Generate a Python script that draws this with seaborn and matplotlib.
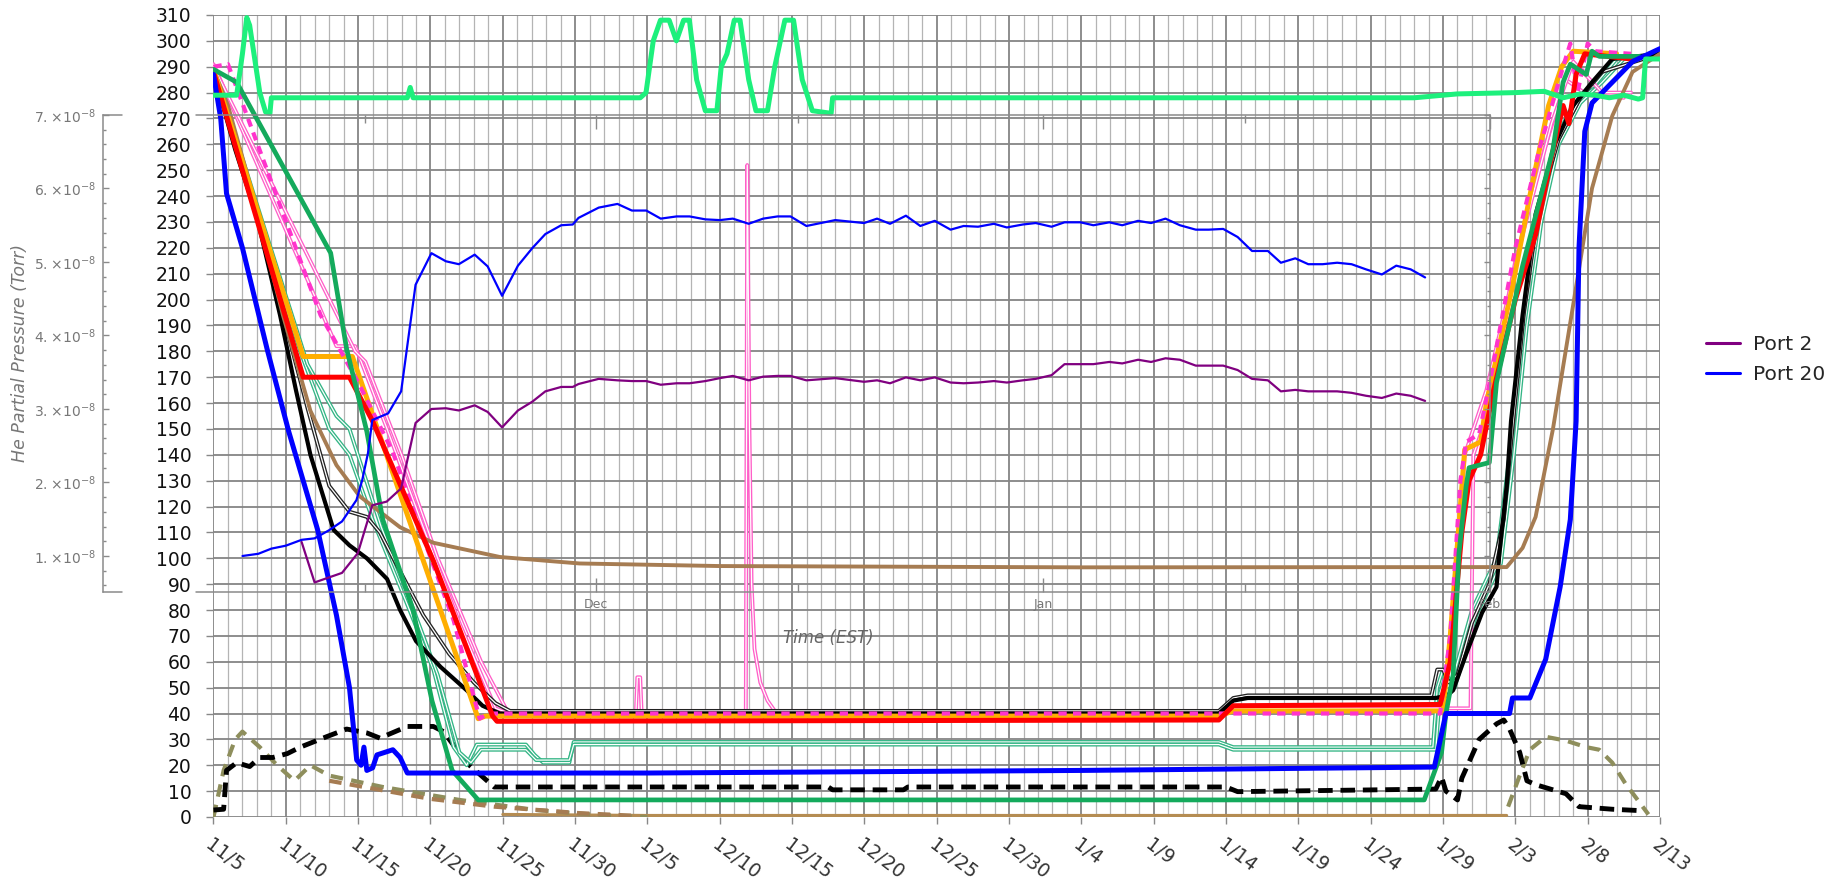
import numpy as np
import pandas as pd
import matplotlib
matplotlib.use('Agg')
import matplotlib.pyplot as plt
import matplotlib.patheffects as pe
from matplotlib.lines import Line2D
from matplotlib.ticker import MultipleLocator, FuncFormatter
import seaborn as sns

# dates: main axis counts days from 11/5, inset counts days from Dec 1
start = pd.Timestamp('2019-11-05')
tick_dates = pd.date_range(start, '2020-02-13', freq='5D')
tick_labels = [f'{d.month}/{d.day}' for d in tick_dates]
tick_days = list((tick_dates - start).days)

# ---- main chart series (day, value) ----
lime_day = [0, 1.6, 2.0, 2.3, 2.5, 3.2, 3.6, 3.9, 4.0, 13.4, 13.6, 13.8, 29.5, 29.9, 30.4, 30.9, 31.5, 32.0,
            32.5, 32.9, 33.4, 34.0, 34.8, 35.1, 35.5, 36.0, 36.4, 37.0, 37.5, 38.3, 38.8, 39.5, 40.1, 40.7,
            41.4, 42.7, 42.8, 83, 86, 90, 92, 93.3, 94.5, 95.5, 96.5, 97.5, 98.5, 98.8, 99.0, 100]
lime_val = [279, 279, 295, 309, 306, 280, 272.5, 272, 278, 278, 282, 278, 278, 280, 300, 308, 308, 300,
            308, 308, 285, 273, 273, 290, 295, 308, 308, 285, 273, 273, 290, 308, 308, 285,
            273, 272, 278, 278, 279.5, 280, 280.5, 278, 279.5, 279, 278, 279, 277.5, 278, 293, 293]

brown_day = [0, 1, 2.5, 4.8, 6.7, 8.5, 10.1, 12.9, 15.2, 19.8, 25.3, 35, 60, 89.4, 90.5, 91.4, 92.6, 94,
             95.3, 96.7, 98.1, 100]
brown_val = [289, 275, 245, 194, 157, 136, 124, 112, 106, 100.5, 98, 97, 96.5, 96.6, 104, 116, 150, 198,
             243, 271, 288, 295]

blue_day = [0, 0.5, 0.9, 2.0, 3.7, 5.2, 7.2, 8.5, 9.4, 9.9, 10.2, 10.4, 10.6, 11.0, 11.3, 12.4, 12.9, 13.4,
            30, 60, 84.4, 85.2, 89.6, 89.8, 91, 92.1, 93.1, 93.8, 94.2, 94.4, 94.8, 95.3, 96.7, 98.1, 100]
blue_val = [287, 270, 241, 220, 181, 149, 111, 78, 50, 22, 20, 27, 18, 19, 24, 26, 23, 17,
            17, 18, 19.3, 40, 40, 46, 46, 61, 89, 115, 153, 220, 265, 276, 284, 292, 297]

black_day = [0, 1.5, 3, 4.6, 5.7, 6.7, 8.3, 9.4, 10.6, 12, 12.9, 14, 15.7, 17.5, 18.6, 19.8, 30, 69.5,
             70.5, 71.5, 84.5, 85.3, 85.7, 86.6, 87.7, 88.7, 88.9, 89.4, 89.7, 90.5, 91.4, 92.8, 94,
             95.3, 96.7, 100]
black_val = [288, 258, 232, 194, 165, 140, 111, 105, 100, 92, 80, 68, 58, 49, 43, 40, 40, 40,
             45, 46, 46, 47, 49, 63, 79, 89, 102, 128, 153, 194, 233, 261, 275,
             284, 293, 295]

black2_day = [0, 1.5, 3.2, 5, 6.5, 8, 9.4, 10.6, 11.5, 12.9, 14.5, 16.3, 18, 19.5, 20.5, 69.5, 70.5,
              71.5, 84.2, 84.6, 85.0, 85.4, 86, 87, 88.2, 89.2, 89.8, 90.6, 91.6, 93, 94.5, 96, 100]
black2_val = [289, 262, 232, 190, 158, 128, 118, 116, 110, 95, 78, 63, 52, 44, 41, 41, 46,
              47, 47, 57, 57, 52, 55, 75, 90, 115, 150, 195, 235, 262, 278, 288, 295]

red_day = [0, 6.2, 9.4, 11, 15.2, 19.3, 19.6, 69.5, 70.5, 84.8, 85.5, 86.3, 86.8, 87.6, 88.5, 90, 91.4,
           92.5, 93.3, 93.7, 94.2, 94.8, 98]
red_val = [288, 170, 170, 153, 99, 39, 37, 37.5, 43, 43.5, 60, 110, 130, 140, 165, 200, 225,
           255, 275, 268, 287, 295, 293]

orange_day = [0, 6.2, 9.6, 18.3, 18.8, 69.5, 70.5, 85, 85.5, 86.2, 86.5, 87.6, 88, 89.8, 91, 92.3, 93.2, 94, 97]
orange_val = [289, 178, 178, 38, 39, 39, 41, 41, 70, 120, 142, 145, 160, 205, 240, 275, 290, 296, 295]

magenta_day = [0, 1, 7.4, 8.7, 10, 12.4, 14.3, 16.6, 18.4, 19.0, 84.8, 85.5, 86.2, 86.6, 87.5, 88.3, 90,
               91.7, 93.3, 93.8, 94.3, 95.0, 95.5, 98]
magenta_val = [290, 291, 194, 181, 168, 141, 111, 76, 38, 40, 40, 70, 130, 145, 148, 170, 220,
               259, 290, 299, 280, 299, 296, 295]

pink1_day = [0, 8.5, 9.8, 12, 14.5, 17, 19.5, 20.5, 29.2, 29.3, 29.5, 29.6, 36.8, 36.9, 37.05, 37.2, 37.4,
             37.8, 38.3, 38.8, 39.5, 69.5, 70.5, 86.9, 87.1, 87.6, 88.5, 90, 92, 93.5, 95, 97.5]
pink1_val = [291, 182, 182, 150, 112, 75, 42, 40, 40, 54, 54, 40, 40, 252, 150, 90, 65,
             52, 45, 41, 40, 40, 42, 42, 140, 148, 170, 215, 258, 285, 279, 278]
pink2_day = [0, 9.8, 10.5, 13, 15.5, 18.5, 20.3, 85, 85.7, 86.5, 88, 90.5, 92.5, 94, 96, 98]
pink2_val = [290, 180, 176, 140, 100, 60, 41, 41, 80, 140, 165, 225, 268, 292, 280, 280]

green_day = [0, 1.6, 8.1, 9.2, 10.6, 11.7, 13.8, 15.1, 16.5, 18.3, 83.7, 84.9, 85.2, 85.7, 86.1, 86.6,
             86.8, 88.2, 88.7, 90.5, 92.6, 93.3, 93.8, 94.9, 95.3, 95.8, 98.6]
green_val = [289, 284, 218, 181, 149, 115, 80, 45, 18, 6.6, 6.6, 25, 40, 55, 102, 128,
             135, 137, 168, 213, 258, 284, 291, 287, 296, 294, 294]

seagreen1_day = [0, 3, 6, 8, 9.4, 11, 12.9, 15.2, 16.6, 17.5, 18.2, 21.6, 22.2, 22.8, 24.6, 24.9, 69.5,
                 70.5, 84.3, 84.6, 85, 85.6, 87, 88.7, 89.6, 90.5, 91.5, 92.8, 94.2, 95.5, 97, 100]
seagreen1_val = [290, 232, 180, 150, 140, 115, 89, 57, 27, 20, 28, 28, 24, 21, 21, 29, 29,
                 27, 27, 50, 57, 52, 80, 100, 140, 192, 232, 262, 278, 283, 293, 295]
seagreen2_day = [0, 3.5, 6.5, 8.5, 9.4, 11.6, 13.5, 15.5, 17, 17.8, 18.5, 21.6, 22.3, 24.6, 24.9, 69.5,
                 70.5, 84.5, 84.8, 85.2, 85.8, 87.3, 89, 89.9, 90.8, 91.8, 93, 94.5, 96, 97.5, 100]
seagreen2_val = [290, 228, 175, 155, 150, 112, 85, 55, 25, 21, 26, 26, 22, 22, 28, 28,
                 26, 26, 48, 55, 50, 78, 98, 140, 190, 230, 260, 276, 284, 293, 295]

bdash_day = [0, 0.7, 0.9, 1.6, 2.5, 3.2, 4.1, 5.1, 6.0, 7.8, 9.2, 10.6, 11.5, 13.4, 15.2, 15.9, 17.5,
             19.4, 42.5, 42.8, 47.7, 48, 70, 70.8, 84.5, 84.9, 85.2, 86.0, 86.3, 87.5, 88.7, 89.2,
             89.6, 90.3, 90.8, 91.4, 92.6, 93.5, 94.4, 96.7, 98.5]
bdash_val = [2.7, 3, 18, 21, 19.5, 23, 23, 24.5, 27, 31, 34, 32.5, 30.5, 35, 35, 33, 21,
             11.6, 11.6, 10.5, 10.5, 11.6, 11.6, 9.8, 10.8, 15.5, 10, 6.6, 15, 30, 36, 37.5,
             34, 25, 14, 12.5, 10.5, 9, 4, 3, 2.5]

olive_a_day = [0, 0.7, 1.5, 2.0, 3.2, 4.4, 5.6, 6.7, 8, 11.7, 17, 22.3, 26.5, 30]
olive_a_val = [0, 18, 30, 33, 27, 20, 14, 20, 16, 11.6, 6.6, 2.7, 0.8, 0]
olive_b_day = [89.5, 90.3, 91, 92.1, 93.5, 94.9, 95.8, 96.7, 97.6, 98.8, 99.2]
olive_b_val = [4, 16, 26, 31, 29.5, 27, 26, 21, 13, 4, 1]

bndash_day = [8, 12, 15, 19.4, 25.3, 29]
bndash_val = [14, 10, 7, 4, 1.5, 0.5]

floor_day = [20, 30, 89.4]
floor_val = [1, 0.6, 0.6]

# ---- inset series: days from Dec 1, He partial pressure in 1e-8 Torr ----
port20_day = [-24.5, -23.4, -22.5, -21.5, -20.4, -19.5, -18.5, -17.6, -16.6, -16.2, -15.8, -15.5, -14.4,
              -13.5, -12.5, -11.4, -10.4, -9.5, -8.4, -7.5, -6.5, -5.4, -4.4, -3.5, -2.4, -1.6, -1.2,
              0.2, 1.5, 2.5, 3.5, 4.5, 5.6, 6.5, 7.6, 8.6, 9.5, 10.6, 11.6, 12.6, 13.5, 14.6, 16.6,
              18.6, 19.5, 20.4, 21.5, 22.5, 23.5, 24.6, 25.5, 26.5, 27.6, 28.5, 29.6, 30.5, 31.6, 32.5,
              33.6, 34.5, 35.6, 36.5, 37.6, 38.5, 39.5, 40.5, 41.6, 42.5, 43.5, 44.5, 45.5, 46.6, 47.5,
              48.5, 49.4, 50.4, 51.4, 52.4, 53.4, 54.5, 55.5, 56.5, 57.5]
port20_val = [1.00, 1.03, 1.10, 1.14, 1.22, 1.24, 1.35, 1.47, 1.76, 2.03, 2.40, 2.85, 2.94,
              3.24, 4.69, 5.12, 5.01, 4.97, 5.10, 4.94, 4.54, 4.95, 5.19, 5.38, 5.50, 5.51, 5.60,
              5.74, 5.79, 5.70, 5.70, 5.59, 5.62, 5.62, 5.58, 5.57, 5.59, 5.52, 5.59, 5.62, 5.62, 5.49, 5.57,
              5.53, 5.59, 5.52, 5.63, 5.49, 5.56, 5.44, 5.49, 5.48, 5.52, 5.47, 5.51, 5.53, 5.48, 5.54,
              5.54, 5.50, 5.54, 5.50, 5.56, 5.53, 5.59, 5.50, 5.44, 5.44, 5.45, 5.34, 5.15, 5.15, 4.99,
              5.05, 4.97, 4.97, 4.99, 4.97, 4.90, 4.83, 4.95, 4.90, 4.79]

port2_day = [-20.4, -19.5, -17.6, -16.5, -15.5, -14.5, -13.5, -12.5, -11.4, -10.4, -9.5, -8.4, -7.5, -6.5,
             -5.4, -4.4, -3.5, -2.4, -1.6, -1.2, 0.2, 1.5, 2.5, 3.5, 4.5, 5.6, 6.5, 7.6, 8.6, 9.5, 10.6,
             11.6, 12.6, 13.5, 14.6, 16.6, 18.6, 19.5, 20.4, 21.5, 22.5, 23.5, 24.6, 25.5, 26.5, 27.6,
             28.5, 29.6, 30.5, 31.6, 32.5, 33.6, 34.5, 35.6, 36.5, 37.6, 38.5, 39.5, 40.5, 41.6, 42.5,
             43.5, 44.5, 45.5, 46.6, 47.5, 48.5, 49.4, 50.4, 51.4, 52.4, 53.4, 54.5, 55.5, 56.5, 57.5]
port2_val = [1.19, 0.64, 0.77, 1.04, 1.69, 1.74, 1.92, 2.81, 3.00, 3.01, 2.98, 3.05, 2.96, 2.75,
             2.98, 3.10, 3.24, 3.30, 3.30, 3.34, 3.41, 3.39, 3.38, 3.38, 3.33, 3.35, 3.35, 3.38, 3.42, 3.45, 3.39,
             3.44, 3.45, 3.45, 3.39, 3.42, 3.37, 3.39, 3.35, 3.43, 3.39, 3.43, 3.36, 3.35, 3.36, 3.38,
             3.36, 3.39, 3.41, 3.46, 3.61, 3.61, 3.61, 3.64, 3.62, 3.67, 3.64, 3.69, 3.67, 3.59, 3.59,
             3.59, 3.53, 3.41, 3.39, 3.24, 3.26, 3.24, 3.24, 3.24, 3.22, 3.18, 3.15, 3.21, 3.18, 3.11]

inset_ticks = [0, 31, 62]
inset_tick_labels = ['Dec', 'Jan', 'Feb']
inset_minor = [-16, 14, 45]

# ---- figure ----
sns.set_theme(style='white')
plt.rcParams['font.family'] = ['DejaVu Sans']
W, H = 1833, 881
fig = plt.figure(figsize=(W / 100, H / 100), dpi=100)
fig.patch.set_facecolor('white')

ax = fig.add_axes([213.5 / W, 1 - 817 / H, (1660 - 213.5) / W, (817 - 15) / H])
ax_in = fig.add_axes([102.6 / W, 1 - 592 / H, (1490 - 102.6) / W, (592 - 115) / H])
ax.set_zorder(1)
ax_in.set_zorder(3)
ax_in.patch.set_visible(False)


def line(d, v, color, lw, z, **kw):
    sns.lineplot(x=d, y=v, ax=ax, color=color, lw=lw, estimator=None, sort=False,
                 legend=False, zorder=z, solid_joinstyle='round', **kw)


def double(d, v, color, z):
    line(d, v, 'white', 0.9, z,
         path_effects=[pe.Stroke(linewidth=2.8, foreground=color), pe.Normal()])


line(floor_day, floor_val, '#b58c52', 2.2, 2)
line(olive_a_day, olive_a_val, '#8e8e5c', 3.0, 3, linestyle=(0, (3, 2)))
line(olive_b_day, olive_b_val, '#8e8e5c', 3.0, 3, linestyle=(0, (3, 2)))
line(bndash_day, bndash_val, '#a67c52', 3.0, 3, linestyle=(0, (3, 2)))
line(bdash_day, bdash_val, 'black', 3.5, 4, linestyle=(0, (3, 1.6)))
double(seagreen1_day, seagreen1_val, '#33b585', 5)
double(seagreen2_day, seagreen2_val, '#33b585', 5)
double(pink1_day, pink1_val, '#ff5fc8', 5)
double(pink2_day, pink2_val, '#ff5fc8', 5)
double(black2_day, black2_val, '#222222', 6)
line(black_day, black_val, 'black', 3.0, 6)
line(brown_day, brown_val, '#a67c52', 2.8, 7)
line(orange_day, orange_val, '#ffae00', 3.6, 7)
line(magenta_day, magenta_val, '#ff33cc', 3.0, 8, linestyle=(0, (2, 1.5)))
line(red_day, red_val, '#ff0000', 3.6, 8)
line(green_day, green_val, '#14aa5c', 3.4, 9)
line(blue_day, blue_val, '#0000ff', 3.6, 9)
line(lime_day, lime_val, '#1df07c', 3.6, 10)

ax.set_xlim(0, 100)
ax.set_ylim(0, 310)
ax.set_xticks(tick_days)
ax.set_xticklabels(tick_labels, rotation=-37, ha='left', va='top', rotation_mode='anchor',
                   fontsize=13.5, color='#333333')
ax.set_yticks(np.arange(0, 311, 10))
ax.set_yticklabels([str(t) for t in range(0, 311, 10)], fontsize=13.5, color='#111111')
ax.xaxis.set_minor_locator(MultipleLocator(1))
ax.grid(which='major', axis='both', color='#858585', lw=1.3)
ax.grid(which='minor', axis='x', color='#b4b4b4', lw=0.9)
ax.set_axisbelow(True)
ax.tick_params(which='major', length=5, width=1, color='#888888', pad=8, bottom=True, left=True)
ax.tick_params(axis='y', pad=11)
ax.tick_params(which='minor', length=0)
ax.set_xlabel('')
ax.set_ylabel('')
sns.despine(ax=ax, left=True, bottom=True)

# inset (Port 2 / Port 20)
sns.lineplot(x=port2_day, y=np.array(port2_val) * 1e-8, ax=ax_in, color='#800080', lw=1.6,
             estimator=None, sort=False, legend=False)
sns.lineplot(x=port20_day, y=np.array(port20_val) * 1e-8, ax=ax_in, color='#0000ff', lw=1.6,
             estimator=None, sort=False, legend=False)
ax_in.set_xlim(-34.2, 62.0)
ax_in.set_ylim(0.51e-8, 7e-8)
ax_in.set_xticks(inset_ticks)
ax_in.set_xticklabels(inset_tick_labels, fontsize=9, color='#777777')
ax_in.set_xticks(inset_minor, minor=True)
ax_in.set_yticks(np.arange(1, 8) * 1e-8)
ax_in.yaxis.set_major_formatter(FuncFormatter(lambda v, p: r'$%d.\!\times\!10^{-8}$' % round(v * 1e8)))
ax_in.yaxis.set_minor_locator(MultipleLocator(0.2e-8))
ax_in.tick_params(axis='y', which='major', labelsize=10, labelcolor='#777777')
ax_in.tick_params(which='both', direction='in', color='#8a8a8a', width=1,
                  top=True, right=True, bottom=True, left=True)
ax_in.tick_params(axis='x', which='major', length=10, pad=4)
ax_in.tick_params(axis='x', which='minor', length=6)
ax_in.tick_params(axis='y', which='major', length=4.3, pad=4.5)
ax_in.tick_params(axis='y', which='minor', length=2.5)
for s in ['left', 'right']:
    ax_in.spines[s].set_color('#8a8a8a')
    ax_in.spines[s].set_linewidth(1.1)
for s in ['top', 'bottom']:
    ax_in.spines[s].set_visible(False)
# top / bottom frame, broken where the main tick labels sit
for yy in [7e-8, 0.51e-8]:
    ax_in.axhline(yy, xmin=0, xmax=0.014, color='#8a8a8a', lw=1.1, clip_on=False)
    ax_in.axhline(yy, xmin=0.0673, xmax=1, color='#8a8a8a', lw=1.1, clip_on=False)

ax_in.set_xlabel('Time (EST)', fontstyle='italic', color='#666666', fontsize=12)
ax_in.xaxis.set_label_coords(0.523, -0.078)
ax_in.set_ylabel('He Partial Pressure (Torr)', fontstyle='italic', color='#777777', fontsize=12.5)
ax_in.yaxis.set_label_coords(-0.053, 0.5)

handles = [Line2D([], [], color='#800080', lw=2.2), Line2D([], [], color='#0000ff', lw=2.2)]
fig.legend(handles, ['Port 2', 'Port 20'], loc='center left', bbox_to_anchor=(0.921, 0.592),
           frameon=False, fontsize=14.5, handlelength=1.66, handletextpad=0.68, labelspacing=0.55)

fig.savefig('out.png', dpi=100, facecolor='white')
